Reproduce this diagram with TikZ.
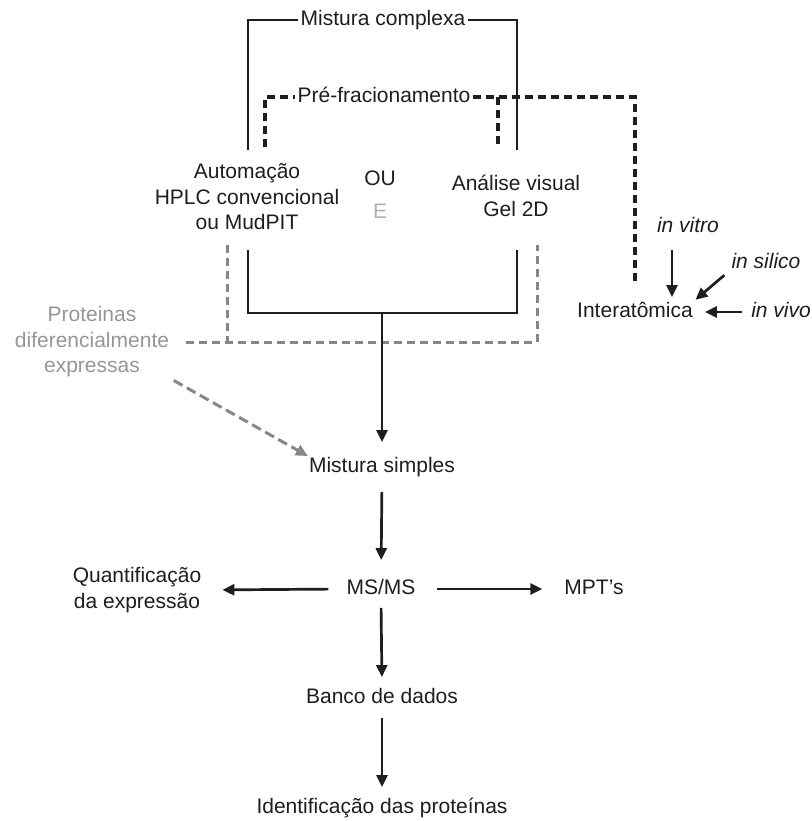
\documentclass[tikz,border=0pt]{standalone}
\usepackage{fontspec}
\setmainfont{Liberation Sans}
\usetikzlibrary{arrows.meta}
\definecolor{ink}{RGB}{30,30,30}
\definecolor{gtext}{RGB}{150,150,150}
\definecolor{elight}{RGB}{175,175,175}
\definecolor{gline}{RGB}{135,135,135}
\begin{document}
\begin{tikzpicture}[x=1pt,y=-1pt,
  txt/.style={font=\fontsize{21}{25.5}\selectfont, text=ink, inner sep=1pt, align=center},
  one/.style={txt, text height=15pt, text depth=4.5pt},
  itx/.style={one, font=\fontsize{21}{25.5}\selectfont\itshape},
  gtxt/.style={txt, text=gtext},
  sol/.style={line width=2.7pt, draw=ink},
  arr/.style={line width=2.7pt, draw=ink, -{Triangle[length=12pt,width=11pt]}},
  bdash/.style={line width=3.6pt, draw=ink, dash pattern=on 8pt off 5pt},
  gdash/.style={line width=3pt, draw=gline, dash pattern=on 8pt off 5pt},
  garr/.style={line width=3pt, draw=gline, dash pattern=on 10pt off 5pt, -{Triangle[length=12pt,width=11pt,fill=gline]}},
]
\useasboundingbox (0,0) rectangle (811,821);

% text nodes
\node[one, fill=white, inner xsep=3pt] (mc) at (383,20) {Mistura complexa};
\node[one, fill=white, inner xsep=2pt] (pf) at (384,97) {Pré-fracionamento};
\node[txt] (auto) at (247,197) {Automação\\HPLC convencional\\ou MudPIT};
\node[one] (ou) at (380,180) {OU};
\node[one, text=elight] (e) at (380,213) {E};
\node[txt] (gel) at (516,196) {Análise visual\\Gel 2D};
\node[gtxt] (prot) at (92,342) {Proteinas\\diferencialmente\\expressas};
\node[one] (simples) at (382,467) {Mistura simples};
\node[one] (msms) at (381,589) {MS/MS};
\node[txt] (quant) at (137,590) {Quantificação\\da expressão};
\node[one] (mpt) at (594,589) {MPT's};
\node[one] (banco) at (382,698) {Banco de dados};
\node[one] (ident) at (382,808) {Identificação das proteínas};
\node[one] (inter) at (635,312) {Interatômica};
\node[itx] (vitro) at (688,227) {in vitro};
\node[itx] (silico) at (766,263) {in silico};
\node[itx] (vivo) at (781,312) {in vivo};

% coordinates
\coordinate (mcL) at (248,150);
\coordinate (mcR) at (517,150);
\coordinate (pfL) at (265,147);
\coordinate (pfR) at (498,147);
\coordinate (pfRt) at (498,97);
\coordinate (pfend) at (635,285);
\coordinate (jL) at (248,250);
\coordinate (jR) at (517,250);
\coordinate (join) at (382,313);
\coordinate (gL1) at (227,245);
\coordinate (gL2) at (227,342);
\coordinate (gR1) at (537,342);
\coordinate (gR2) at (537,245);

% Mistura complexa bracket
\draw[sol] (mcL) |- (mc.west);
\draw[sol] (mc.east) -| (mcR);

% Pre-fracionamento dashed bracket
\draw[bdash] (pfL) |- (pf.west);
\draw[bdash] (pf.east) -| (pfend);
\draw[bdash] (pfRt) -- (pfR);

% gray dashed bracket
\draw[gdash] (gL1) -- (gL2);
\draw[gdash, shorten <=16pt] (prot.east) -- (gR1) -- (gR2);
\draw[garr, shorten <=4pt] (prot.south east) -- (simples.north west);

% solid joining bracket
\draw[sol] (jL) |- (join) -| (jR);
\draw[arr, shorten >=14pt] (join) -- (simples.north);

% main chain
\draw[arr, shorten <=14pt, shorten >=18pt] (simples.south) -- (msms.north);
\draw[arr, shorten <=17pt, shorten >=20pt] (msms.west) -- (quant.east);
\draw[arr, shorten <=20pt, shorten >=21pt] (msms.east) -- (mpt.west);
\draw[arr, shorten <=8pt, shorten >=10pt] (msms.south) -- (banco.north);
\draw[arr, shorten <=9pt, shorten >=10pt] (banco.south) -- (ident.north);

% interatomica
\draw[arr, shorten <=12pt, shorten >=4pt] ([xshift=-16pt]vitro.south) -- ([xshift=37pt]inter.north);
\draw[arr, shorten <=8pt, shorten >=2pt] ([yshift=-7pt]silico.west) -- (inter.north east);
\draw[arr, shorten <=8pt, shorten >=11pt] (vivo.west) -- (inter.east);
\end{tikzpicture}
\end{document}
